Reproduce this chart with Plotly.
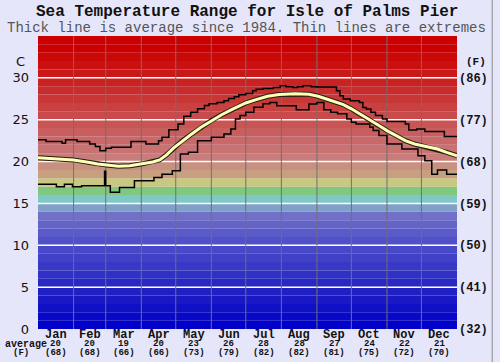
import plotly.graph_objects as go

# ---------------- data ----------------
title = "Sea Temperature Range for Isle of Palms Pier"
subtitle = "Thick line is average since 1984. Thin lines are extremes"

months = ["Jan", "Feb", "Mar", "Apr", "May", "Jun", "Jul", "Aug", "Sep", "Oct", "Nov", "Dec"]
month_avg_c = ["20", "20", "19", "20", "23", "26", "28", "28", "27", "24", "22", "21"]
month_avg_f = ["(68)", "(68)", "(66)", "(66)", "(73)", "(79)", "(82)", "(82)", "(81)", "(75)", "(72)", "(70)"]
month_starts = [0, 31, 59, 90, 120, 151, 181, 212, 243, 273, 304, 334, 365]

c_ticks = [0, 5, 10, 15, 20, 25, 30]
f_ticks = ["(32)", "(41)", "(50)", "(59)", "(68)", "(77)", "(86)"]

avg_day = [0, 15, 31, 45, 52, 60, 70, 80, 90, 100, 106, 112, 118, 125, 133, 142, 151, 160,
           170, 181, 190, 200, 210, 224, 236, 244, 252, 258, 266, 273, 281, 289, 297, 304,
           312, 320, 328, 334, 341, 348, 356, 365]
avg_c = [20.45, 20.35, 20.2, 19.9, 19.7, 19.6, 19.45, 19.5, 19.7, 19.95, 20.2, 20.8, 21.6,
         22.4, 23.2, 24.1, 24.9, 25.6, 26.3, 27.0, 27.4, 27.8, 28.0, 28.1, 28.05, 27.8,
         27.45, 27.2, 26.8, 26.3, 25.6, 24.9, 24.3, 23.7, 23.1, 22.5, 22.1, 21.9, 21.7,
         21.5, 21.1, 20.7]

max_day = [0, 7, 21, 24, 34, 45, 50, 54, 59, 64, 81, 94, 105, 108, 114, 122, 127, 133,
           139, 145, 149, 156, 162, 166, 171, 175, 181, 187, 190, 196, 205, 211, 216, 222,
           226, 231, 238, 243, 260, 263, 266, 272, 280, 283, 286, 290, 294, 300, 304, 320,
           323, 330, 337, 354, 365]
max_c = [22.6, 22.4, 22.2, 22.6, 22.4, 22.1, 21.8, 21.3, 21.6, 21.7, 22.4, 22.1, 22.5,
         22.9, 23.8, 24.5, 25.4, 25.9, 26.3, 26.7, 26.9, 27.06, 27.26, 27.54, 27.74, 27.98,
         28.13, 28.45, 28.65, 28.73, 28.85, 29.05, 28.93, 28.85, 28.93, 29.05, 28.93, 28.9,
         28.45, 27.86, 27.46, 27.26, 27.06, 26.47, 26.27, 25.9, 25.5, 25.08, 24.8, 24.48,
         23.77, 23.9, 23.6, 22.98, 22.98]

min_day = [0, 16, 23, 30, 38, 58, 59, 63, 71, 84, 101, 108, 117, 124, 131, 139, 151, 162,
           168, 172, 176, 181, 188, 196, 202, 208, 225, 236, 243, 249, 255, 261, 269, 273,
           277, 289, 292, 297, 304, 317, 331, 337, 343, 348, 356, 365]
min_c = [17.3, 17.0, 17.3, 17.0, 17.1, 18.85, 17.1, 16.35, 16.9, 17.7, 18.1, 18.5, 18.9,
         20.9, 21.1, 22.5, 22.9, 23.3, 23.9, 25.1, 25.5, 25.9, 26.5, 26.9, 27.06, 26.67,
         26.19, 26.87, 27.06, 26.2, 25.9, 25.7, 25.08, 24.7, 24.5, 24.1, 23.7, 23.1, 22.1,
         21.5, 20.7, 20.1, 18.5, 19.0, 18.5, 18.5]

# background colour bands, one per degree C (from 0 up to 35)
band_colors = [
    "#0000c8", "#0808c8", "#1010c6", "#1818c4", "#2020c2", "#2828c2", "#3030c4", "#3838c6",
    "#4040c8", "#4848c8", "#5050c8", "#5a5ac8", "#6464c8", "#7070c8", "#80a0c8", "#80c8c8",
    "#80c880", "#c8c880", "#c8a080", "#c89080", "#c87c7c", "#c87272", "#c86868", "#c85e5e",
    "#c85454", "#c84a4a", "#c84040", "#c83636", "#c82c2c", "#c82222", "#c81818", "#ca1010",
    "#ca0808", "#cc0000", "#cc0000",
]

# ---------------- figure ----------------
fig = go.Figure()

shapes = []
for i, col in enumerate(band_colors):
    shapes.append(dict(type="rect", xref="x", yref="y", x0=0, x1=365, y0=i, y1=i + 1,
                       fillcolor=col, line=dict(width=0), layer="below"))
for c in c_ticks[1:]:
    shapes.append(dict(type="line", xref="x", yref="y", x0=0, x1=365, y0=c, y1=c,
                       line=dict(color="white", width=1.5), layer="below"))
for d in month_starts[1:-1]:
    shapes.append(dict(type="line", xref="x", yref="y", x0=d, x1=d, y0=0, y1=35,
                       line=dict(color="#707070", width=1), layer="below"))
# right border of the picture
shapes.append(dict(type="line", xref="paper", yref="paper", x0=1.084, x1=1.084, y0=-0.2, y1=1.2,
                   line=dict(color="#888888", width=1)))

fig.add_trace(go.Scatter(x=max_day, y=max_c, mode="lines", line=dict(color="black", width=1.5, shape="hv"),
                         hoverinfo="skip"))
fig.add_trace(go.Scatter(x=min_day, y=min_c, mode="lines", line=dict(color="black", width=1.5, shape="hv"),
                         hoverinfo="skip"))
fig.add_trace(go.Scatter(x=avg_day, y=avg_c, mode="lines", line=dict(color="#202010", width=5),
                         hoverinfo="skip"))
fig.add_trace(go.Scatter(x=avg_day, y=avg_c, mode="lines", line=dict(color="#ffffb8", width=3),
                         hoverinfo="skip"))
# invisible trace for right axis
fig.add_trace(go.Scatter(x=[0], y=[0], yaxis="y2", mode="markers", marker=dict(opacity=0),
                         hoverinfo="skip"))

mono = "Liberation Mono"
plot_top, plot_bot = 36, 329
ph = plot_bot - plot_top
pw = 428


def py(p):
    """pixel row -> paper y"""
    return (plot_bot - p) / ph


def px(p):
    """pixel column -> paper x"""
    return (p - 35) / pw


ann = []
ann.append(dict(text="<b>" + title + "</b>", x=px(248.5), y=py(12), xref="paper", yref="paper",
                font=dict(family=mono, size=16, color="#111111")))
ann.append(dict(text=subtitle, x=px(248), y=py(28), xref="paper", yref="paper",
                font=dict(family=mono, size=14, color="#555555")))

for i, m in enumerate(months):
    xc = (month_starts[i] + month_starts[i + 1]) / 2
    ann.append(dict(text="<b>" + m + "</b>", x=xc, y=py(334.5), xref="x", yref="paper",
                    font=dict(family=mono, size=12, color="#111111")))
    ann.append(dict(text="<b>" + month_avg_c[i] + "</b>", x=xc, y=py(343.5), xref="x", yref="paper",
                    font=dict(family=mono, size=9, color="#111111")))
    ann.append(dict(text="<b>" + month_avg_f[i] + "</b>", x=xc, y=py(352.5), xref="x", yref="paper",
                    font=dict(family=mono, size=9, color="#111111")))

ann.append(dict(text="<b>average</b>", x=px(22.5), y=py(344), xref="paper", yref="paper",
                font=dict(family=mono, size=10, color="#111111")))
ann.append(dict(text="<b>(F)</b>", x=px(18), y=py(352.5), xref="paper", yref="paper",
                font=dict(family=mono, size=9, color="#111111")))
ann.append(dict(text="C", x=px(17), y=py(61), xref="paper", yref="paper",
                font=dict(family="DejaVu Sans", size=13, color="#111111")))
ann.append(dict(text="<b>(F)</b>", x=px(482), y=py(62), xref="paper", yref="paper",
                font=dict(family=mono, size=11, color="#111111")))
for a in ann:
    a.update(xanchor="center", yanchor="middle", showarrow=False, borderpad=0)

fig.update_layout(
    width=500, height=362,
    margin=dict(l=35, r=37, t=plot_top, b=362 - plot_bot),
    paper_bgcolor="#e6e6fa",
    plot_bgcolor="#e6e6fa",
    showlegend=False,
    shapes=shapes,
    annotations=ann,
    xaxis=dict(range=[0, 365], showgrid=False, zeroline=False, showticklabels=False, fixedrange=True),
    yaxis=dict(range=[0, 35], showgrid=False, zeroline=False, tickvals=c_ticks,
               ticktext=[str(c) for c in c_ticks], ticks="", ticklabelstandoff=8,
               tickfont=dict(family="DejaVu Sans", size=13, color="#111111")),
    yaxis2=dict(range=[0, 35], overlaying="y", side="right", showgrid=False, zeroline=False,
                tickvals=c_ticks, ticktext=["<b>" + t + "</b>" for t in f_ticks], ticks="",
                ticklabelstandoff=1, tickfont=dict(family=mono, size=12, color="#111111")),
)

fig.write_html(
    "out.html",
    config={"displayModeBar": False},
    post_script="document.body.style.margin='0';document.body.style.overflow='hidden';"
                "document.body.style.background='#e6e6fa';",
)
